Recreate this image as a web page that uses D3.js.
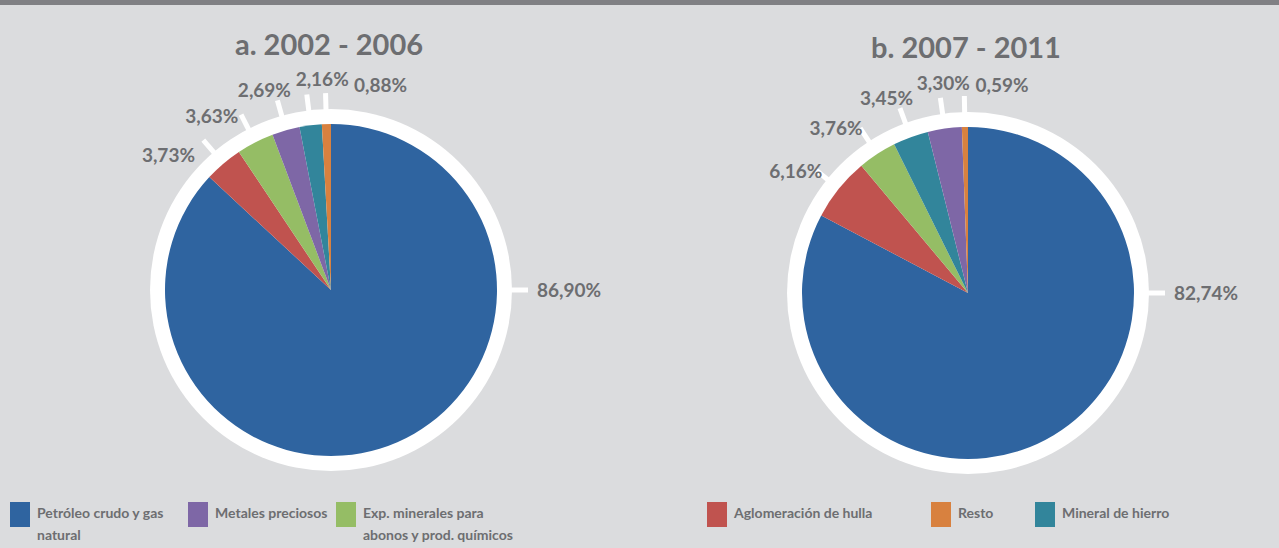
<!DOCTYPE html>
<html>
<head>
<meta charset="utf-8">
<script src="https://cdn.jsdelivr.net/npm/d3@7"></script>
<style>
    body { margin: 0; background: #dbdcde; }
    svg { display: block; font-family: Lato, "Open Sans", sans-serif; }
</style>
</head>
<body>
<div id="chart"></div>
<script>
// categories and legend text
var categories = ["Petróleo crudo y gas natural", "Metales preciosos",
    "Exp. minerales para abonos y prod. químicos", "Aglomeración de hulla",
    "Resto", "Mineral de hierro"];
var legendLines = [["Petróleo crudo y gas", "natural"], ["Metales preciosos"],
    ["Exp. minerales para", "abonos y prod. químicos"], ["Aglomeración de hulla"],
    ["Resto"], ["Mineral de hierro"]];

// a. 2002 - 2006 (slices clockwise from 12 o'clock)
var titleA = "a. 2002 - 2006";
var sliceCatsA = ["Petróleo crudo y gas natural", "Aglomeración de hulla",
    "Exp. minerales para abonos y prod. químicos", "Metales preciosos",
    "Mineral de hierro", "Resto"];
var valuesA = [86.90, 3.73, 3.63, 2.69, 2.16, 0.88];

// b. 2007 - 2011
var titleB = "b. 2007 - 2011";
var sliceCatsB = ["Petróleo crudo y gas natural", "Aglomeración de hulla",
    "Exp. minerales para abonos y prod. químicos", "Mineral de hierro",
    "Metales preciosos", "Resto"];
var valuesB = [82.74, 6.16, 3.76, 3.45, 3.30, 0.59];

var W = 1279, H = 548;
var textColor = "#6d6e71";

var color = d3.scaleOrdinal()
    .domain(categories)
    .range(["#2f64a0", "#7e67a6", "#95bd65", "#c0534f", "#d8813f", "#32859b"]);

var svg = d3.select("#chart").append("svg")
    .attr("width", W)
    .attr("height", H);

svg.append("rect").attr("width", W).attr("height", H).attr("fill", "#dbdcde");
svg.append("rect").attr("width", W).attr("height", 5).attr("fill", "#808084");

var rPie = 166, rRing = 181, rTick = 197, rLabel = 211;
var minGap = 16 * Math.PI / 180;

function fmt(v) { return v.toFixed(2).replace(".", ",") + "%"; }

// spread the small labels around their mean angle so they do not overlap
function spread(items) {
    items.sort(function (a, b) { return a.angle - b.angle; });
    var clusters = items.map(function (d) { return { items: [d] }; });
    function place(c) {
        var m = d3.mean(c.items, function (d) { return d.angle; });
        var n = c.items.length;
        c.items.forEach(function (d, k) { d.labelAngle = m + (k - (n - 1) / 2) * minGap; });
    }
    clusters.forEach(place);
    var merged = true;
    while (merged) {
        merged = false;
        for (var i = 0; i < clusters.length - 1; i++) {
            var a = clusters[i], b = clusters[i + 1];
            if (a.items[a.items.length - 1].labelAngle + minGap > b.items[0].labelAngle + 1e-9) {
                a.items = a.items.concat(b.items);
                clusters.splice(i + 1, 1);
                place(a);
                merged = true;
                break;
            }
        }
    }
}

function drawPie(cx, cy, title, cats, values) {
    var g = svg.append("g").attr("transform", "translate(" + cx + "," + cy + ")");

    g.append("text")
        .attr("x", -2)
        .attr("y", -235)
        .attr("text-anchor", "middle")
        .attr("fill", textColor)
        .style("font-size", "29px")
        .style("font-weight", "bold")
        .text(title);

    var data = cats.map(function (c, i) { return { cat: c, value: values[i] }; });
    var arcs = d3.pie().sort(null).value(function (d) { return d.value; })(data);

    g.append("circle").attr("r", rRing).attr("fill", "#ffffff");

    var arc = d3.arc().innerRadius(0).outerRadius(rPie);
    g.selectAll(".slice")
        .data(arcs)
        .enter().append("path")
        .attr("class", "slice")
        .attr("d", arc)
        .attr("fill", function (d) { return color(d.data.cat); });

    // tick angles: biggest slice labelled at 3 o'clock, others at their middle
    arcs.forEach(function (d, i) {
        var a = (d.startAngle + d.endAngle) / 2;
        if (a > Math.PI) a -= 2 * Math.PI;
        d.angle = i === 0 ? Math.PI / 2 : a;
        d.labelAngle = d.angle;
    });
    spread(arcs.slice(1));

    g.selectAll(".tick")
        .data(arcs)
        .enter().append("line")
        .attr("x1", function (d) { return (rRing - 2) * Math.sin(d.angle); })
        .attr("y1", function (d) { return -(rRing - 2) * Math.cos(d.angle); })
        .attr("x2", function (d) { return rTick * Math.sin(d.angle); })
        .attr("y2", function (d) { return -rTick * Math.cos(d.angle); })
        .attr("stroke", "#ffffff")
        .attr("stroke-width", 5);

    g.selectAll(".lbl")
        .data(arcs)
        .enter().append("text")
        .attr("x", function (d, i) { return i === 0 ? rTick + 9 : rLabel * Math.sin(d.labelAngle); })
        .attr("y", function (d, i) { return i === 0 ? 0 : -rLabel * Math.cos(d.labelAngle); })
        .attr("dy", "0.36em")
        .attr("text-anchor", function (d, i) { return i === 0 ? "start" : "middle"; })
        .attr("fill", textColor)
        .style("font-size", "19px")
        .style("font-weight", "bold")
        .text(function (d) { return fmt(d.data.value); });
}

drawPie(331, 290, titleA, sliceCatsA, valuesA);
drawPie(968, 293, titleB, sliceCatsB, valuesB);

// legend
var legendX = [10, 188, 336, 707, 931, 1035];
var legend = svg.selectAll(".legend")
    .data(categories)
    .enter().append("g")
    .attr("class", "legend")
    .attr("transform", function (d, i) { return "translate(" + legendX[i] + ",502)"; });

legend.append("rect")
    .attr("width", 20)
    .attr("height", 25)
    .attr("fill", function (d) { return color(d); });

legend.append("text")
    .attr("x", 27)
    .attr("y", 16)
    .attr("fill", textColor)
    .style("font-size", "14px")
    .style("font-weight", "bold")
    .each(function (d, i) {
        var t = d3.select(this);
        legendLines[i].forEach(function (line, k) {
            t.append("tspan").attr("x", 27).attr("dy", k === 0 ? 0 : 22).text(line);
        });
    });
</script>
</body>
</html>
